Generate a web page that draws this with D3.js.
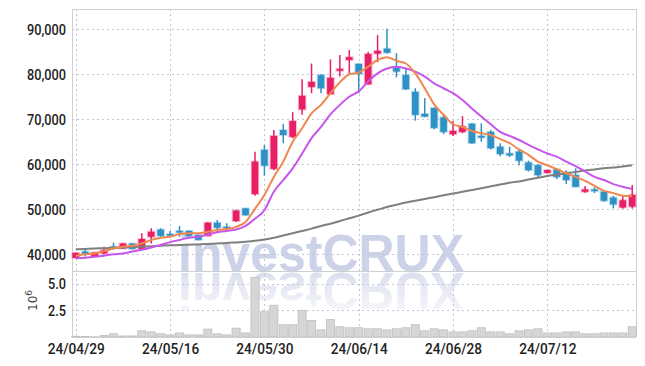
<!DOCTYPE html>
<html><head><meta charset="utf-8">
<script src="https://cdn.jsdelivr.net/npm/d3@7"></script>
<style>html,body{margin:0;padding:0;background:#fff}svg{display:block}</style>
</head><body><svg id="c" width="645" height="366"></svg>
<script>
const dates = ["24/04/29","24/04/30","24/05/02","24/05/03","24/05/07","24/05/08","24/05/09","24/05/10","24/05/13","24/05/14",
"24/05/16","24/05/17","24/05/20","24/05/21","24/05/22","24/05/23","24/05/24","24/05/27","24/05/28","24/05/29",
"24/05/30","24/05/31","24/06/03","24/06/04","24/06/05","24/06/07","24/06/10","24/06/11","24/06/12","24/06/13",
"24/06/14","24/06/17","24/06/18","24/06/19","24/06/20","24/06/21","24/06/24","24/06/25","24/06/26","24/06/27",
"24/06/28","24/07/01","24/07/02","24/07/03","24/07/04","24/07/05","24/07/08","24/07/09","24/07/10","24/07/11",
"24/07/12","24/07/15","24/07/16","24/07/17","24/07/18","24/07/19","24/07/22","24/07/23","24/07/24","24/07/25"];
const open = [39200,40600,39600,40200,41700,41300,42400,41200,43900,45500,
44500,45200,45200,44300,44100,47000,46100,47400,50200,53400,
63200,59000,67600,66100,72200,77200,79800,75600,80800,83200,
82300,77800,84600,85700,81700,79800,76100,71200,72500,70400,
66700,67200,69000,66300,67200,63900,62400,62800,60400,59800,
58100,58900,58100,57600,53900,54400,53900,52600,50400,50600];
const high = [40400,41300,40500,41700,42600,42500,42500,44700,45800,45800,
45200,46300,45300,44400,47200,47600,46900,49900,50300,62800,
64300,67600,69000,71600,78900,82400,80000,83300,84300,85400,
82400,85000,88700,90100,84700,81300,76900,74700,72600,71000,
69600,70700,69200,69100,67600,64700,63900,63200,60800,60000,
58800,59000,58700,59100,55200,54900,54000,53000,53000,55400];
const low = [39100,39500,39500,40000,41000,41200,41100,41000,42400,43900,
44100,43900,43900,43100,44000,45000,45400,47200,48600,53000,
57500,58700,64700,65800,71000,75800,75800,75500,79500,80200,
75800,77700,82700,84600,79300,76500,69700,70500,67800,66700,
66300,66900,64500,65000,63300,61800,61600,59800,58400,57200,
58000,56700,55600,54900,53700,53600,51700,50200,50200,50200];
const close = [40300,40100,40400,40900,41500,42400,41200,43400,45000,44100,
44300,44900,44100,43200,47000,45900,45800,49700,48700,60600,
59700,66300,66500,69600,75200,78300,76900,79200,81200,83800,
80100,84500,85200,84800,80600,76700,71000,70600,68100,67200,
67400,68400,64700,66100,63600,62300,62000,60800,58700,57600,
58700,57200,56500,55000,54400,54100,51900,51100,52000,53200];
const volume = [0.06,0.06,0.02,0.15,0.3,0.1,0.1,0.58,0.48,0.3,
0.2,0.38,0.2,0.2,0.74,0.3,0.2,0.83,0.38,5.58,
2.37,2.98,1.15,1.15,2.5,1.54,0.67,1.63,0.96,0.87,
0.87,0.77,0.77,0.67,0.77,0.87,1.15,0.58,0.77,0.67,
0.48,0.48,0.58,0.87,0.48,0.48,0.3,0.58,0.67,0.77,
0.38,0.38,0.48,0.48,0.3,0.3,0.38,0.38,0.38,0.96];
const ma5 = [39700,40000,40200,40700,41300,41700,41900,42400,43200,43700,
43900,44500,44700,44700,45000,45400,45600,46100,47200,50100,
53200,57200,60600,65000,68000,71300,73200,75800,78200,80000,
80400,81700,83200,83800,83000,82400,80200,76900,73300,71000,
68900,68300,67400,66900,66500,65600,64700,63300,62100,60600,
59800,58900,58000,57200,56300,55200,54100,53600,53000,52900];
const ma10 = [39100,39250,39450,39700,40000,40200,40600,41000,41500,42100,
42700,43200,43700,43900,44400,44900,45200,45500,46300,47900,
49800,53900,56500,59100,62400,65800,68300,71100,73200,75000,
76200,78400,80200,81300,81600,81300,80600,79500,78000,76900,
75800,74300,72400,70600,68900,67200,66300,65400,64300,63300,
62400,61700,60600,59600,58400,57200,56500,55600,55000,54500];
const ma60 = [41100,41200,41300,41350,41450,41500,41600,41700,41800,41900,
42000,42050,42150,42200,42300,42400,42500,42650,42800,43000,
43300,43700,44200,44700,45200,45700,46300,46800,47400,48000,
48600,49300,49900,50500,51000,51500,51900,52300,52700,53100,
53500,53900,54300,54700,55100,55500,55900,56200,56600,57000,
57400,57700,58000,58300,58600,58850,59100,59300,59500,59800];
const priceTicks = [40000,50000,60000,70000,80000,90000];
const volTicks = [2.5,5.0];
const dateTicks = ["24/04/29","24/05/16","24/05/30","24/06/14","24/06/28","24/07/12"];

const svg = d3.select("#c");
const L = 72, R = 636, PT = 9, PB = 271, VT = 272, VB = 337;
const UP = "#e81e66", DN = "#2e92c6", GRID = "#c3c6d8";
const FONT = "Roboto,'DejaVu Sans',sans-serif";

const x = d3.scalePoint().domain(dates).range([L, R]).padding(0.4);
const y = d3.scaleLinear().domain([36290, 94510]).range([PB, PT]);
const yv = d3.scaleLinear().domain([0, 6.1]).range([VB, VT]);

// watermark
const defs = svg.append("defs");
const g1 = defs.append("linearGradient").attr("id","fade").attr("gradientUnits","userSpaceOnUse")
  .attr("x1",0).attr("y1",273).attr("x2",0).attr("y2",316);
g1.append("stop").attr("offset",0).attr("stop-color","#fff").attr("stop-opacity",0.6);
g1.append("stop").attr("offset",1).attr("stop-color","#fff").attr("stop-opacity",0.1);
defs.append("mask").attr("id","m").append("rect").attr("x",0).attr("y",272).attr("width",645).attr("height",60).attr("fill","url(#fade)");
const wm = {x:178, y:271, size:52, len:286};
svg.append("text").attr("x",wm.x).attr("y",wm.y).attr("font-family","'Liberation Sans','DejaVu Sans',sans-serif")
  .attr("font-weight","bold").attr("font-size",wm.size).attr("textLength",wm.len).attr("lengthAdjust","spacingAndGlyphs")
  .attr("fill","#ccd2e8").text("investCRUX");
svg.append("g").attr("mask","url(#m)").append("text").attr("x",wm.x).attr("y",wm.y)
  .attr("transform","translate(0,544) scale(1,-1)")
  .attr("font-family","'Liberation Sans','DejaVu Sans',sans-serif")
  .attr("font-weight","bold").attr("font-size",wm.size).attr("textLength",wm.len).attr("lengthAdjust","spacingAndGlyphs")
  .attr("fill","#c4cae2").text("investCRUX");

// grid
const grid = svg.append("g").attr("stroke",GRID).attr("stroke-dasharray","2,3").attr("stroke-width",1);
priceTicks.forEach(t => grid.append("line").attr("x1",L).attr("x2",R).attr("y1",Math.round(y(t))+0.5).attr("y2",Math.round(y(t))+0.5));
volTicks.forEach(t => grid.append("line").attr("x1",L).attr("x2",R).attr("y1",Math.round(yv(t))+0.5).attr("y2",Math.round(yv(t))+0.5));
dateTicks.forEach(d => grid.append("line").attr("x1",Math.round(x(d))+0.5).attr("x2",Math.round(x(d))+0.5).attr("y1",PT).attr("y2",VB));

// frame
const fr = svg.append("g").attr("stroke","#cfcfcf").attr("fill","none");
fr.append("rect").attr("x",L+0.5).attr("y",PT+0.5).attr("width",R-L).attr("height",PB-PT);
fr.append("line").attr("x1",L+0.5).attr("x2",L+0.5).attr("y1",PB).attr("y2",VB);
fr.append("line").attr("x1",R+0.5).attr("x2",R+0.5).attr("y1",PB).attr("y2",VB);

// volume bars
const bw = x.step()*0.86;
svg.append("g").selectAll("rect").data(volume).join("rect")
  .attr("x",(d,i)=>x(dates[i])-bw/2).attr("width",bw)
  .attr("y",d=>yv(d)).attr("height",d=>VB-yv(d))
  .attr("fill","#d6d6d6").attr("stroke","#bfbfbf").attr("stroke-width",0.8);
svg.append("line").attr("x1",L).attr("x2",R).attr("y1",VB+0.5).attr("y2",VB+0.5).attr("stroke","#cfcfcf");

// candles
const cw = 6.6;
const cg = svg.append("g");
dates.forEach((d,i)=>{
  const col = close[i] >= open[i] ? UP : DN;
  const cx = x(d);
  const g = cg.append("g");
  g.append("line").attr("x1",cx).attr("x2",cx).attr("y1",y(high[i])).attr("y2",y(low[i]))
    .attr("stroke",col).attr("stroke-width",1.5);
  const top = y(Math.max(open[i],close[i])), bot = y(Math.min(open[i],close[i]));
  g.append("rect").attr("x",cx-cw/2).attr("y",top).attr("width",cw).attr("height",Math.max(1.6,bot-top))
    .attr("fill",col).attr("stroke",col).attr("stroke-opacity",0.3).attr("stroke-width",2);
});

// moving averages
const line = arr => d3.line().x((d,i)=>x(dates[i])).y(d=>y(d)).curve(d3.curveMonotoneX)(arr);
svg.append("path").attr("d",line(ma60)).attr("fill","none").attr("stroke","#7f7f7f").attr("stroke-width",2);
svg.append("path").attr("d",line(ma10)).attr("fill","none").attr("stroke","#c855ea").attr("stroke-width",2);
svg.append("path").attr("d",line(ma5)).attr("fill","none").attr("stroke","#f0874f").attr("stroke-width",2);

// axes
function styleTicks(sel, factor){
  sel.selectAll("text").attr("font-family",FONT).attr("font-size",15.5).attr("font-weight",500).attr("fill","#222")
    .each(function(){ const w=this.getComputedTextLength(); d3.select(this).attr("textLength",w*factor).attr("lengthAdjust","spacingAndGlyphs"); });
}
const ay = svg.append("g").attr("transform",`translate(${L},0)`)
  .call(d3.axisLeft(y).tickValues(priceTicks).tickFormat(d3.format(",")).tickSize(0).tickPadding(6));
ay.select(".domain").remove();
styleTicks(ay, 0.82);
const av = svg.append("g").attr("transform",`translate(${L},0)`)
  .call(d3.axisLeft(yv).tickValues(volTicks).tickFormat(d3.format(".1f")).tickSize(0).tickPadding(6));
av.select(".domain").remove();
styleTicks(av, 0.82);
const ax = svg.append("g").attr("transform",`translate(0,${VB})`)
  .call(d3.axisBottom(x).tickValues(dateTicks).tickSize(0).tickPadding(6));
ax.select(".domain").remove();
styleTicks(ax, 0.88);

const u = svg.append("text").attr("transform","translate(37,311) rotate(-90)")
  .attr("font-family","'DejaVu Sans',sans-serif").attr("font-size",12).attr("fill","#444");
u.append("tspan").text("10");
u.append("tspan").attr("dy",-5).attr("font-size",9).text("6");
</script></body></html>
